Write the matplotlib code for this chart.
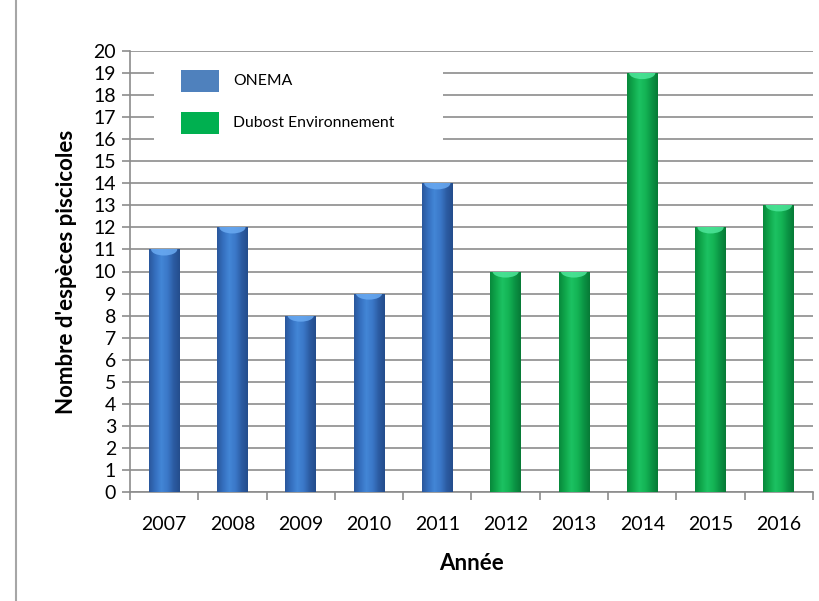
import numpy as np
import matplotlib
matplotlib.use("Agg")
import matplotlib.pyplot as plt
from matplotlib.colors import LinearSegmentedColormap
from matplotlib.patches import Rectangle, Ellipse
from matplotlib.lines import Line2D

years = ["2007", "2008", "2009", "2010", "2011", "2012", "2013", "2014", "2015", "2016"]
values = [11, 12, 8, 9, 14, 10, 10, 19, 12, 13]
source = ["ONEMA"] * 5 + ["Dubost Environnement"] * 5
legend_labels = ["ONEMA", "Dubost Environnement"]
legend_colors = ["#4f81bd", "#00b050"]

plt.rcParams['font.family'] = ['Lato', 'DejaVu Sans']

fig = plt.figure(figsize=(8.2, 6.01), dpi=100)
ax = fig.add_axes([130/820, 1-492/601, (813-130)/820, (492-51)/601])

# outer left line
fig.add_artist(Line2D([16/820, 16/820], [0, 1], transform=fig.transFigure,
                      color="#a6a6a6", lw=1.5))

cmaps = {
    "ONEMA": LinearSegmentedColormap.from_list("b", ["#2a579c", "#3570c0", "#4386d6", "#3b78c8", "#2c5ca3", "#244d8c"]),
    "Dubost Environnement": LinearSegmentedColormap.from_list("g", ["#08893c", "#10a84c", "#1cc262", "#14b455", "#0b9545", "#077a36"]),
}
caps = {"ONEMA": "#6aaaf2", "Dubost Environnement": "#4ee69a"}

x = np.arange(len(years))
w = 0.45
bars = ax.bar(x, values, width=w, color="none", edgecolor="none", zorder=3)
grad = np.linspace(0, 1, 64).reshape(1, -1)
for b, src, v in zip(bars, source, values):
    x0 = b.get_x()
    im = ax.imshow(grad, extent=[x0, x0 + w, 0, v], cmap=cmaps[src], aspect="auto",
                   zorder=3, interpolation="bilinear")
    im.set_clip_path(b)
    el = Ellipse((x0 + w/2, v), w*0.85, 0.55, facecolor=caps[src], edgecolor="none",
                 alpha=0.85, zorder=4)
    ax.add_patch(el)
    el.set_clip_path(b)

ax.set_xlim(-0.5, 9.5)
ax.set_ylim(0, 20)
ax.set_yticks(range(0, 21))
ax.yaxis.grid(True, color="#8c8c8c", lw=1.2, zorder=0)
ax.set_axisbelow(True)
ax.set_xticks(x)
ax.set_xticklabels(years)
ax.set_xticks(np.arange(-0.5, 10, 1), minor=True)
ax.tick_params(axis="x", which="major", length=0, pad=17, labelsize=14)
ax.tick_params(axis="x", which="minor", length=6, color="#8c8c8c", width=1.2)
ax.tick_params(axis="y", length=6, color="#8c8c8c", width=1.2, labelsize=14, pad=4)
for s in ["top", "right"]:
    ax.spines[s].set_visible(False)
for s in ["left", "bottom"]:
    ax.spines[s].set_color("#8c8c8c")
    ax.spines[s].set_linewidth(1.2)

ax.set_ylabel("Nombre d'espèces piscicoles", fontsize=16, fontweight="bold", labelpad=12)
ax.set_xlabel("Année", fontsize=16, fontweight="bold", labelpad=15)

# legend box (white, covering gridlines)
def fx(px):
    return (px - 130) / (813 - 130)
def fy(py):
    return (492 - py) / (492 - 51)
ax.add_patch(Rectangle((fx(154), fy(150)), fx(443) - fx(154), fy(55) - fy(150),
                       transform=ax.transAxes, facecolor="white", edgecolor="none", zorder=5))
for i, (lab, col) in enumerate(zip(legend_labels, legend_colors)):
    top = 70 + i * 42
    ax.add_patch(Rectangle((fx(181), fy(top + 22)), fx(219) - fx(181), fy(top) - fy(top + 22),
                           transform=ax.transAxes, facecolor=col, edgecolor="none", zorder=6))
    ax.text(fx(233), fy(top + 11), lab, transform=ax.transAxes, fontsize=11.3,
            va="center", ha="left", zorder=7)

fig.savefig("out.png", dpi=100)
